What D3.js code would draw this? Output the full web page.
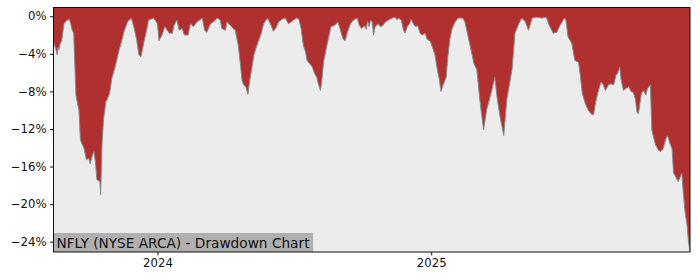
<!DOCTYPE html>
<html>
<head>
<meta charset="utf-8">
<script src="https://cdn.jsdelivr.net/npm/d3@7"></script>
<style>
  body { margin: 0; background: #fff; }
  #chart { width: 700px; height: 280px; }
  text { font-family: "DejaVu Sans", sans-serif; }
</style>
</head>
<body>
<div id="chart"></div>
<script>
// Drawdown values (%), days counted from baseDate
const baseDate = new Date(2024, 0, 1);
const dayOffsets2023 = [-139, -136, -134, -133, -132, -130, -128, -125, -122, -118, -116, -114, -112, -109, -105, -103,
  -98, -95, -92, -90, -87, -85, -83, -81, -77, -76, -74, -72, -69, -67, -64, -61, -56, -52, -48, -45, -40,
  -35, -32, -28, -25, -22, -18, -14, -12, -5];
const drawdown2023 = [-2.7, -3.5, -4.1, -3.3, -3.6, -2.9, -2.6, -0.8, -0.5, -0.3, -0.8, -1.5, -1.8, -8.4, -10.0, -13.2,
  -14.1, -15.3, -15.1, -15.7, -14.8, -14.4, -15.5, -17.4, -17.6, -19.0, -13.4, -10.9, -9.1, -8.8, -8.2, -6.6, -5.2, -3.8, -2.7, -1.7, -0.6,
  -0.2, -1.0, -2.4, -4.1, -4.3, -2.7, -1.3, -0.4, -0.2];

const dayOffsets2024 = [0, 2, 6, 10, 13, 16, 20, 22, 26, 29, 33, 36, 41, 44, 48, 53, 60, 63, 66, 71, 75, 80, 84, 86, 91,
  93, 98, 101, 104, 108, 111, 113, 115, 118, 121, 123, 126, 129, 133, 138, 142, 147, 151, 155, 158, 162, 167,
  171, 175, 179, 182, 186, 189, 192, 195, 198, 200, 203, 207, 210, 213, 215, 218, 220, 222, 226, 229, 232, 236,
  239, 241, 244, 248, 251, 254, 258, 262, 267, 270, 273, 277, 279, 281, 283, 285, 287, 289, 291, 295, 298, 301,
  305, 309, 314, 318, 320, 322, 326, 329, 331, 334, 337, 339, 342, 345, 348, 351, 354, 358, 360];
const drawdown2024 = [-0.8, -2.6, -2.0, -1.1, -1.5, -1.8, -1.8, -1.0, -0.4, -1.5, -1.3, -2.0, -2.0, -0.8, -1.1, -0.6, -0.2, -1.5, -1.7, -0.8, -0.6, -0.2, -0.4, -1.3, -1.5,
  -0.6, -1.0, -1.3, -1.5, -3.1, -5.2, -6.8, -7.3, -7.5, -8.3, -7.0, -5.6, -4.1, -3.1, -2.0, -0.8, -0.2, -0.8, -1.6, -1.3, -0.6, -0.3,
  -0.2, -0.8, -0.6, -0.4, -0.2, -0.3, -1.3, -3.1, -3.8, -4.7, -5.0, -5.4, -6.1, -6.5, -7.2, -7.9, -6.6, -4.9, -3.3, -2.2, -1.1, -1.0,
  -0.8, -0.6, -1.3, -2.4, -2.6, -1.7, -0.8, -0.4, -0.2, -1.0, -1.3, -1.0, -1.4, -0.5, -1.1, -0.4, -0.6, -2.0, -1.1, -0.8, -1.1, -1.0,
  -0.6, -0.4, -0.2, -0.1, -0.4, -0.2, -0.4, -1.5, -1.8, -1.1, -0.8, -0.3, -0.8, -1.1, -1.0, -1.8, -2.0, -1.8, -2.4];

const dayOffsets2025 = [365, 368, 371, 374, 377, 379, 382, 386, 388, 391, 394, 398, 402, 408, 411, 416, 419, 423, 427,
  431, 436, 440, 447, 451, 454, 458, 463, 467, 474, 478, 483, 487, 492, 496, 501, 507, 514, 520, 524, 529, 534,
  538, 544, 546, 549, 554, 558, 563, 565, 568, 572, 576, 580, 583, 586, 589, 593, 596, 599, 603, 606, 610, 613,
  615, 618, 620, 623, 626, 630, 633, 636, 639, 641, 643, 647, 650, 653, 655, 659, 661, 663, 666, 670, 673, 676,
  680, 682, 685, 688, 690, 693, 696, 699, 701, 703, 705, 708, 710, 712];
const drawdown2025 = [-2.7, -3.4, -4.1, -5.6, -6.8, -8.0, -7.3, -6.5, -4.5, -2.4, -1.3, -0.6, -0.2, -0.2, -0.6, -2.4, -3.5, -5.0, -5.7,
  -8.9, -12.1, -10.0, -7.9, -6.5, -8.6, -10.7, -12.7, -8.9, -5.7, -1.8, -0.8, -0.2, -0.6, -1.5, -0.2, -0.1, -0.2, -0.1, -1.0, -1.8, -1.7,
  -1.0, -0.2, -0.4, -2.2, -2.9, -4.7, -4.9, -6.1, -8.2, -9.3, -10.0, -10.4, -10.5, -9.1, -8.1, -7.0, -7.3, -7.9, -7.3, -7.2, -7.3, -6.3,
  -6.1, -5.4, -6.8, -7.9, -7.7, -7.5, -8.0, -8.1, -8.8, -10.2, -10.4, -8.2, -7.9, -8.4, -7.7, -7.3, -12.1, -12.8, -13.7, -14.3, -14.4, -14.1,
  -13.0, -12.7, -13.5, -14.1, -16.7, -17.1, -17.6, -17.1, -16.7, -18.7, -20.6, -22.2, -24.0, -25.0];

const yTicks = [0, -4, -8, -12, -16, -20, -24];
const xTickYears = [2024, 2025];
const title = "NFLY (NYSE ARCA) - Drawdown Chart";

const dayOffsets = dayOffsets2023.concat(dayOffsets2024, dayOffsets2025);
const drawdown = drawdown2023.concat(drawdown2024, drawdown2025);
const data = dayOffsets.map((d, i) => ({
  date: d3.timeDay.offset(baseDate, d),
  value: drawdown[i]
}));

const width = 700, height = 280;
const margin = { top: 7.5, right: 10, bottom: 28, left: 53.5 };

const svg = d3.select("#chart")
  .append("svg")
  .attr("width", width)
  .attr("height", height);

const x = d3.scaleTime()
  .domain(d3.extent(data, d => d.date))
  .range([margin.left, width - margin.right]);

const y = d3.scaleLinear()
  .domain([-25.1, 0.93])
  .range([height - margin.bottom, margin.top]);

// plot background
svg.append("rect")
  .attr("x", margin.left)
  .attr("y", margin.top)
  .attr("width", width - margin.left - margin.right)
  .attr("height", height - margin.top - margin.bottom)
  .attr("fill", "#ececec");

// red area between 0 and the drawdown curve
svg.append("path")
  .datum(data)
  .attr("fill", "#b03030")
  .attr("d", d3.area()
    .x(d => x(d.date))
    .y0(y(0.93))
    .y1(d => y(d.value)));

svg.append("path")
  .datum(data)
  .attr("fill", "none")
  .attr("stroke", "#8a8a8a")
  .attr("stroke-width", 1)
  .attr("d", d3.line()
    .x(d => x(d.date))
    .y(d => y(d.value)));

// title box in the lower left corner
const label = svg.append("g");
const labelText = label.append("text")
  .attr("x", margin.left + 3)
  .attr("y", height - margin.bottom - 4.5)
  .attr("font-size", "13.7px")
  .attr("fill", "#111")
  .text(title);
const bb = labelText.node().getBBox();
label.insert("rect", "text")
  .attr("x", margin.left)
  .attr("y", height - margin.bottom - 19)
  .attr("width", bb.width + 6)
  .attr("height", 19)
  .attr("fill", "#b0b0b0");

// axes
const yAxis = svg.append("g")
  .attr("transform", `translate(${margin.left},0)`)
  .call(d3.axisLeft(y)
    .tickValues(yTicks)
    .tickSize(3.5)
    .tickPadding(3.5)
    .tickFormat(d => (d < 0 ? "\u2212" + Math.abs(d) : d) + "%"));

const xAxis = svg.append("g")
  .attr("transform", `translate(0,${height - margin.bottom})`)
  .call(d3.axisBottom(x)
    .tickValues(xTickYears.map(yr => new Date(yr, 0, 1)))
    .tickSize(3.5)
    .tickPadding(3.5)
    .tickFormat(d3.timeFormat("%Y")));

[yAxis, xAxis].forEach(a => {
  a.select(".domain").remove();
  a.selectAll("text").attr("font-size", "11.7px").attr("fill", "#111")
    .style("font-family", "'DejaVu Sans', sans-serif");
  a.selectAll("line").attr("stroke", "#111");
});

// frame
svg.append("rect")
  .attr("x", margin.left)
  .attr("y", margin.top)
  .attr("width", width - margin.left - margin.right)
  .attr("height", height - margin.top - margin.bottom)
  .attr("fill", "none")
  .attr("stroke", "#111")
  .attr("stroke-width", 1);
</script>
</body>
</html>
